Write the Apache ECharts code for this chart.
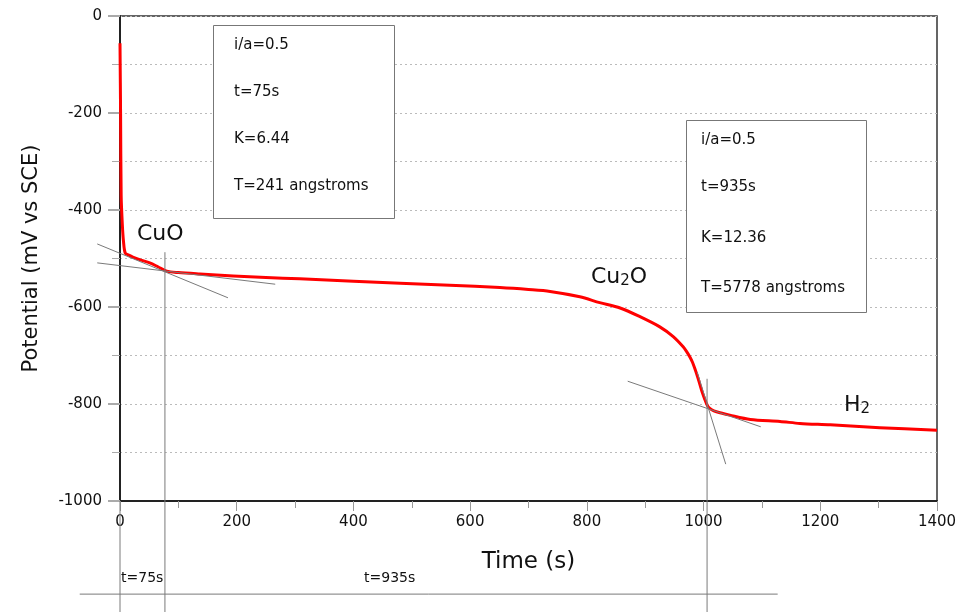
<!DOCTYPE html>
<html>
<head>
<meta charset="utf-8">
<script src="https://cdn.jsdelivr.net/npm/echarts@6/dist/echarts.min.js"></script>
<style>html,body{margin:0;padding:0;background:#fff}#c{width:960px;height:612px}</style>
</head>
<body>
<div id="c"></div>
<script>
// Data
var timeS = [0, 1, 2, 4, 6, 9, 15, 22, 35, 51, 65, 80, 100, 137, 194, 250, 308, 400, 480, 565, 651, 700, 737, 788, 822, 857, 891, 925, 948, 965, 971, 977, 981, 985, 990, 994, 998, 1002, 1005, 1008, 1014, 1022, 1045, 1080, 1131, 1165, 1217, 1302, 1400];
var potential = [-56, -200, -370, -430, -465, -489, -493, -497, -503, -509, -517, -526, -529, -532, -536, -539, -542, -547, -551, -555, -560, -564, -568, -579, -591, -602, -620, -641, -661, -682, -692, -704, -714, -727, -745, -761, -777, -790, -799, -806, -812, -816, -823, -832, -836, -840, -843, -849, -854];
var xTicks = [0, 200, 400, 600, 800, 1000, 1200, 1400];
var yTicks = [0, -200, -400, -600, -800, -1000];

// Construction lines (data coordinates)
var cuoTangentA = [[-39, -470], [185, -581]];
var cuoTangentB = [[-39, -509], [266, -553]];
var cuoMarker = [[77, -487], [77, -1229]];
var h2TangentA = [[870, -753], [1098, -847]];
var h2TangentB = [[989, -734], [1038, -924]];
var h2Marker = [[1006, -748], [1006, -1229]];
var originMarker = [[0, -1000], [0, -1229]];
var baseLine = [[-69, -1192], [1127, -1192]];
var helperLines = [cuoTangentA, cuoTangentB, cuoMarker, h2TangentA, h2TangentB, h2Marker, originMarker, baseLine];

var box1Lines = ['i/a=0.5', 't=75s', 'K=6.44', 'T=241 angstroms'];
var box2Lines = ['i/a=0.5', 't=935s', 'K=12.36', 'T=5778 angstroms'];

var FONT = 'DejaVu Sans';
var chart = echarts.init(document.getElementById('c'), null, {renderer: 'canvas'});

var graphics = [];
graphics.push({type: 'rect', shape: {x: 213.5, y: 25.5, width: 181, height: 193}, style: {fill: '#fff', stroke: '#777', lineWidth: 1}, z: 10});
box1Lines.forEach(function (s, i) {
  graphics.push({type: 'text', x: 234, y: [45, 92, 139, 186][i], style: {text: s, font: '15px "' + FONT + '"', fill: '#111', verticalAlign: 'middle'}, z: 11});
});
graphics.push({type: 'rect', shape: {x: 686.5, y: 120.5, width: 180, height: 192}, style: {fill: '#fff', stroke: '#777', lineWidth: 1}, z: 10});
box2Lines.forEach(function (s, i) {
  graphics.push({type: 'text', x: 701, y: [140, 187, 238, 288][i], style: {text: s, font: '15px "' + FONT + '"', fill: '#111', verticalAlign: 'middle'}, z: 11});
});
graphics.push({type: 'text', x: 137, y: 234, style: {text: 'CuO', font: '22px "' + FONT + '"', fill: '#111', verticalAlign: 'middle'}, z: 11});
graphics.push({type: 'text', x: 591, y: 277, style: {text: 'Cu{s|2}O', font: '22px "' + FONT + '"', fill: '#111', verticalAlign: 'middle',
  rich: {s: {fontSize: 15, fontFamily: FONT, fill: '#111', padding: [8, 0, 0, 0]}}}, z: 11});
graphics.push({type: 'text', x: 844, y: 405, style: {text: 'H{s|2}', font: '22px "' + FONT + '"', fill: '#111', verticalAlign: 'middle',
  rich: {s: {fontSize: 15, fontFamily: FONT, fill: '#111', padding: [8, 0, 0, 0]}}}, z: 11});
graphics.push({type: 'text', x: 121, y: 578, style: {text: 't=75s', font: '14px "' + FONT + '"', fill: '#111', verticalAlign: 'middle'}, z: 11});
graphics.push({type: 'text', x: 364, y: 578, style: {text: 't=935s', font: '14px "' + FONT + '"', fill: '#111', verticalAlign: 'middle'}, z: 11});

chart.setOption({
  animation: false,
  backgroundColor: '#fff',
  textStyle: {fontFamily: FONT},
  grid: {left: 120, top: 16, right: 23, bottom: 111, show: true, borderColor: '#333', borderWidth: 1.5},
  xAxis: {
    type: 'value', min: 0, max: 1400, interval: 200,
    name: 'Time (s)', nameLocation: 'middle', nameGap: 50,
    nameTextStyle: {fontSize: 23, color: '#111', fontFamily: FONT},
    axisLine: {show: true, onZero: false, lineStyle: {color: '#222', width: 2}},
    axisTick: {show: true, length: 10, lineStyle: {color: '#999'}},
    minorTick: {show: true, splitNumber: 2, length: 7, lineStyle: {color: '#999'}},
    splitLine: {show: false},
    axisLabel: {fontSize: 15, color: '#111', margin: 14, fontFamily: FONT,
      formatter: function (v) { return xTicks.indexOf(v) >= 0 ? String(v) : ''; }}
  },
  yAxis: {
    type: 'value', min: -1000, max: 0, interval: 200,
    name: 'Potential (mV vs SCE)', nameLocation: 'middle', nameGap: 78, nameRotate: 90,
    nameTextStyle: {fontSize: 21, color: '#111', fontFamily: FONT},
    axisLine: {show: true, onZero: false, lineStyle: {color: '#222', width: 2}},
    axisTick: {show: true, length: 12, lineStyle: {color: '#aaa', width: 2}},
    minorTick: {show: true, splitNumber: 2, length: 8, lineStyle: {color: '#aaa'}},
    splitLine: {show: true, lineStyle: {color: '#bbb', type: [2, 3]}},
    minorSplitLine: {show: true, lineStyle: {color: '#bbb', type: [2, 3]}},
    axisLabel: {fontSize: 15, color: '#111', margin: 18, fontFamily: FONT,
      formatter: function (v) { return yTicks.indexOf(v) >= 0 ? String(v) : ''; }}
  },
  graphic: graphics,
  series: [
    {type: 'line', data: timeS.map(function (t, i) { return [t, potential[i]]; }),
     symbol: 'none', smooth: 0.3, z: 2, lineStyle: {color: '#ff0000', width: 3, join: 'round'}}
  ]
});

// Construction lines placed through the chart's own scale (linear, extrapolated beyond the axis range)
var pA = chart.convertToPixel({gridIndex: 0}, [0, 0]);
var pB = chart.convertToPixel({gridIndex: 0}, [1400, -1000]);
function toPx(d) {
  return [pA[0] + (d[0] - 0) / 1400 * (pB[0] - pA[0]), pA[1] + (d[1] - 0) / -1000 * (pB[1] - pA[1])];
}
helperLines.forEach(function (ln) {
  var a = toPx(ln[0]), b = toPx(ln[1]);
  graphics.push({type: 'line', shape: {x1: a[0], y1: a[1], x2: b[0], y2: b[1]}, style: {stroke: '#7a7a7a', lineWidth: 1}, z: 5, silent: true});
});
chart.setOption({graphic: graphics});
</script>
</body>
</html>
